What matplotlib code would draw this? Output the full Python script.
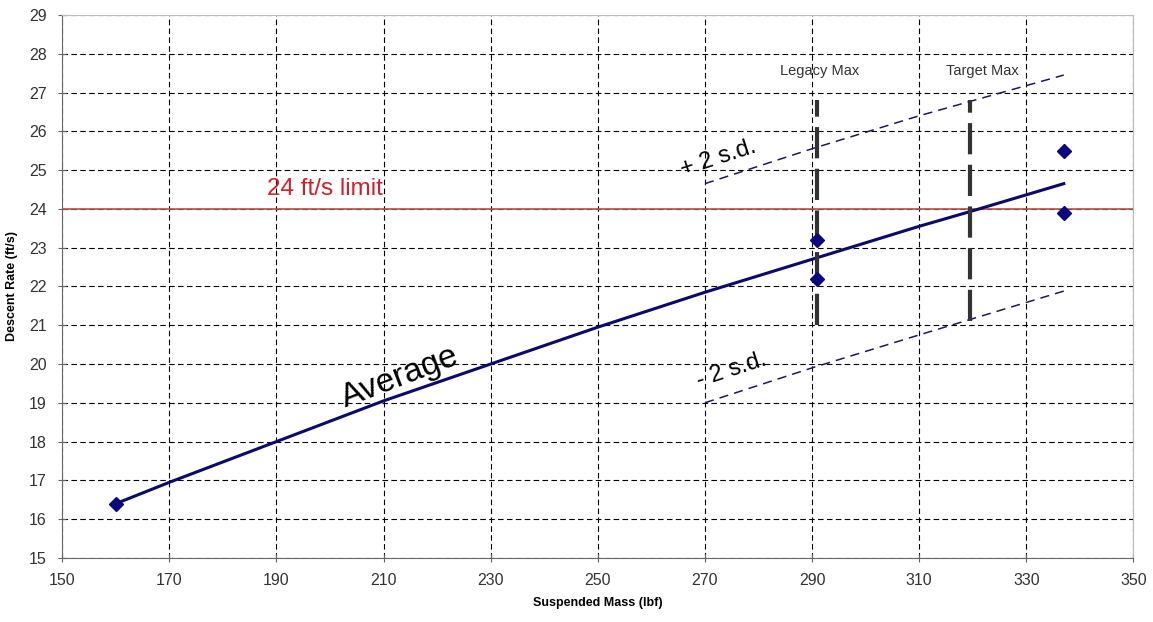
import matplotlib

matplotlib.use("Agg")
import matplotlib.pyplot as plt

plt.rcParams["font.family"] = ["Liberation Sans", "DejaVu Sans"]

# averaged descent-rate curve
avg_mass = [160, 170, 190, 210, 230, 250, 270, 290, 310, 320, 337]
avg_rate = [16.4, 16.95, 18.0, 19.05, 20.0, 20.95, 21.85, 22.7, 23.55, 23.95, 24.65]

# test drops
test_mass = [160, 291, 291, 337, 337]
test_rate = [16.4, 23.2, 22.2, 25.5, 23.9]

# +/- 2 s.d. bands
sd_mass = [270, 290, 310, 337]
sd_upper = [24.65, 25.55, 26.4, 27.45]
sd_lower = [19.0, 19.9, 20.75, 21.88]

# max-mass markers: (x, y_bottom, y_top)
legacy_max = (291, 21.0, 26.8)
target_max = (319.5, 21.1, 26.8)
limit = 24

fig, ax = plt.subplots(figsize=(11.53, 6.22), dpi=100)
fig.subplots_adjust(left=0.054, right=0.983, bottom=0.103, top=0.976)

ax.set_xlim(150, 350)
ax.set_ylim(15, 29)
ax.set_xticks(range(150, 351, 20))
ax.set_yticks(range(15, 30))
ax.grid(True, color="black", ls=(0, (5, 3)), lw=0.8)
ax.set_axisbelow(True)
for s in ("top", "right"):
    ax.spines[s].set_color("#bbbbbb")
for s in ("left", "bottom"):
    ax.spines[s].set_color("#666666")
ax.tick_params(direction="inout", length=6, colors="#666666", labelcolor="#333333",
               labelsize=11.5, pad=8)

ax.axhline(limit, color="#b5524a", lw=1.2, zorder=2)
ax.text(199, 24.5, "24 ft/s limit", color="#d0202a", fontsize=17.5, ha="center", va="center")

ax.plot(avg_mass, avg_rate, color="#0a0a6e", lw=2.2, zorder=3)
ax.plot(test_mass, test_rate, "D", color="#0a0a80", ms=7, ls="none", zorder=4)

ax.plot(sd_mass, sd_upper, color="#1a1a5a", lw=1.1, ls=(0, (6, 4)), zorder=3)
ax.plot(sd_mass, sd_lower, color="#1a1a5a", lw=1.1, ls=(0, (6, 4)), zorder=3)

for x, y0, y1 in (legacy_max, target_max):
    ax.plot([x, x], [y0, y1], color="#333333", lw=3, ls=(0, (7.5, 2.5)), zorder=3)
ax.text(291.5, 27.55, "Legacy Max", fontsize=10.5, color="#333333", ha="center", va="center")
ax.text(321.8, 27.55, "Target Max", fontsize=10.5, color="#333333", ha="center", va="center")

ax.text(213, 19.65, "Average", fontsize=24, rotation=21, ha="center", va="center")
ax.text(272.5, 25.3, "+ 2 s.d.", fontsize=17, rotation=18, ha="center", va="center")
ax.text(275, 19.85, "- 2 s.d.", fontsize=17, rotation=18, ha="center", va="center")

ax.set_xlabel("Suspended Mass (lbf)", fontsize=9, fontweight="bold", labelpad=6)
ax.set_ylabel("Descent Rate (ft/s)", fontsize=9, fontweight="bold", labelpad=8)

fig.savefig("out.png", dpi=100)
